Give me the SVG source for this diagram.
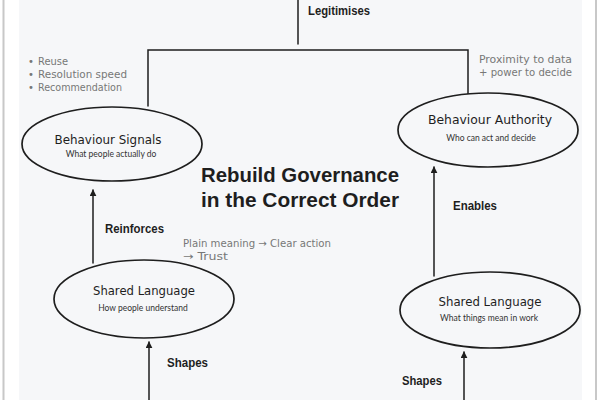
<svg xmlns="http://www.w3.org/2000/svg" width="600" height="400" viewBox="0 0 600 400">
<defs>
<marker id="ah" viewBox="0 0 10 10" refX="9" refY="5" markerWidth="7" markerHeight="7" orient="auto" markerUnits="userSpaceOnUse">
<path d="M0,0 L10,5 L0,10 Z" fill="#1e1e1e"/>
</marker>
<style>
.edge{fill:none;stroke:#1e1e1e;stroke-width:1.5;stroke-linecap:round}
.node{fill:#f6f7f9;stroke:#1e1e1e;stroke-width:1.7}
.lbl{font-family:"Liberation Sans",Arial,sans-serif;font-weight:bold;font-size:13px;fill:#1e1e1e}
.note{font-family:"DejaVu Sans","Liberation Sans",sans-serif;font-size:10px;fill:#777}
.ttl{font-family:"DejaVu Sans","Liberation Sans",sans-serif;font-size:12px;fill:#1e1e1e;text-anchor:middle}
.sub{font-family:Lato,"Liberation Sans",sans-serif;font-size:8.5px;fill:#333;text-anchor:middle}
.head{font-family:"Liberation Sans",Arial,sans-serif;font-weight:bold;font-size:21px;fill:#1e1e1e;text-anchor:middle}
</style>
</defs>
<rect x="0" y="0" width="600" height="400" fill="#ffffff"/>
<rect x="19" y="0" width="563" height="400" fill="#f6f7f9"/>
<line x1="3.5" y1="0" x2="3.5" y2="400" stroke="#c8c8c8" stroke-width="2"/>
<line x1="596" y1="0" x2="596" y2="400" stroke="#c8c8c8" stroke-width="2"/>

<g id="connectors">
<path class="edge" d="M298,0 L298,44"/>
<path class="edge" d="M148,106 L148,50 L468,50 L468,94"/>
<path class="edge" d="M93,263 L93,190" marker-end="url(#ah)"/>
<path class="edge" d="M434,276 L434,167" marker-end="url(#ah)"/>
<path class="edge" d="M149,400 L149,342" marker-end="url(#ah)"/>
<path class="edge" d="M464,400 L464,352" marker-end="url(#ah)"/>
<text class="lbl" x="308" y="15" textLength="62" lengthAdjust="spacingAndGlyphs">Legitimises</text>
<text class="lbl" x="105" y="233" textLength="59" lengthAdjust="spacingAndGlyphs">Reinforces</text>
<text class="lbl" x="453" y="210" textLength="44" lengthAdjust="spacingAndGlyphs">Enables</text>
<text class="lbl" x="167" y="367" textLength="41" lengthAdjust="spacingAndGlyphs">Shapes</text>
<text class="lbl" x="402" y="385" textLength="40" lengthAdjust="spacingAndGlyphs">Shapes</text>
</g>

<g id="notes">
<text class="note" x="28" y="65">•</text>
<text class="note" x="38" y="65" textLength="30" lengthAdjust="spacingAndGlyphs">Reuse</text>
<text class="note" x="28" y="78">•</text>
<text class="note" x="38" y="78" textLength="89" lengthAdjust="spacingAndGlyphs">Resolution speed</text>
<text class="note" x="28" y="91">•</text>
<text class="note" x="38" y="91" textLength="84" lengthAdjust="spacingAndGlyphs">Recommendation</text>
<text class="note" x="479" y="63" textLength="93" lengthAdjust="spacingAndGlyphs">Proximity to data</text>
<text class="note" x="479" y="76" textLength="93" lengthAdjust="spacingAndGlyphs">+ power to decide</text>
<text class="note" x="183" y="247" textLength="148" lengthAdjust="spacingAndGlyphs">Plain meaning → Clear action</text>
<text class="note" x="183" y="260" textLength="45" lengthAdjust="spacingAndGlyphs">→ Trust</text>
</g>

<g id="title">
<text class="head" x="300" y="182" textLength="198" lengthAdjust="spacingAndGlyphs">Rebuild Governance</text>
<text class="head" x="300" y="207" textLength="198" lengthAdjust="spacingAndGlyphs">in the Correct Order</text>
</g>

<g id="behaviour-signals">
<ellipse class="node" cx="112" cy="144" rx="90" ry="37"/>
<text class="ttl" x="108" y="144" textLength="107" lengthAdjust="spacingAndGlyphs">Behaviour Signals</text>
<text class="sub" x="111" y="157">What people actually do</text>
</g>

<g id="behaviour-authority">
<ellipse class="node" cx="488" cy="130" rx="90" ry="37"/>
<text class="ttl" x="490" y="124" textLength="124" lengthAdjust="spacingAndGlyphs">Behaviour Authority</text>
<text class="sub" x="491" y="141">Who can act and decide</text>
</g>

<g id="shared-language-left">
<ellipse class="node" cx="144" cy="299" rx="90" ry="39"/>
<text class="ttl" x="144" y="295" textLength="102" lengthAdjust="spacingAndGlyphs">Shared Language</text>
<text class="sub" x="143" y="311">How people understand</text>
</g>

<g id="shared-language-right">
<ellipse class="node" cx="490" cy="310" rx="90" ry="38"/>
<text class="ttl" x="490" y="306" textLength="103" lengthAdjust="spacingAndGlyphs">Shared Language</text>
<text class="sub" x="489" y="321">What things mean in work</text>
</g>
</svg>
